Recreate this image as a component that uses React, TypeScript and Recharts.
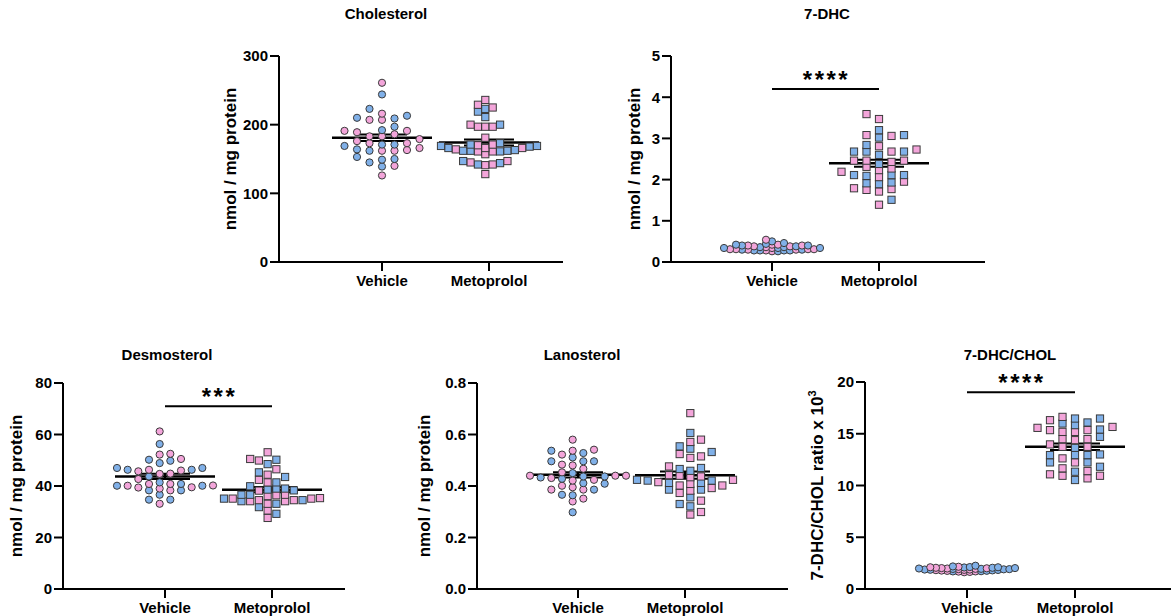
import React from 'react';
import { ScatterChart, Scatter, XAxis, YAxis, ReferenceLine } from 'recharts';

const groups = ['Vehicle', 'Metoprolol'];

// Cholesterol, nmol / mg protein
const cholVehiclePink = [183, 162, 183, 173, 207, 176, 163, 261, 216, 207, 191, 166, 140, 126, 191, 173, 162, 186, 189, 179];
const cholVehicleBlue = [197, 171, 209, 164, 192, 145, 244, 150, 213, 149, 139, 223, 210, 171, 162, 153, 169];
const cholMetoprololPink = [181, 166, 166, 161, 200, 171, 145, 229, 197, 225, 157, 236, 197, 170, 142, 128, 197, 141, 161, 147, 164];
const cholMetoprololBlue = [169, 162, 171, 162, 144, 211, 200, 168, 142, 223, 161, 219, 166, 169, 162, 147, 173, 163];

// 7-DHC, nmol / mg protein
const dhcVehiclePink = [0.3, 0.42, 0.26, 0.31, 0.54, 0.31, 0.34, 0.42, 0.31, 0.31, 0.3, 0.4, 0.38, 0.36, 0.38, 0.28, 0.4];
const dhcVehicleBlue = [0.4, 0.36, 0.36, 0.28, 0.3, 0.5, 0.46, 0.28, 0.26, 0.34, 0.42, 0.34, 0.3, 0.28, 0.44, 0.34, 0.38, 0.28, 0.4];
const dhcMetoprololPink = [3.06, 2.73, 2.46, 2.31, 1.75, 3.59, 2.46, 1.79, 1.39, 3.47, 2.19, 1.95, 1.71, 3.08, 2.68, 2.43, 2.23, 2.06, 1.77, 2.81, 2.46, 2.27];
const dhcMetoprololBlue = [2.68, 2.11, 1.89, 3.2, 2.11, 1.93, 3.08, 2.68, 2.11, 3.02, 2.84, 2.6, 2.38, 1.51, 2.68, 2.09, 1.91];

// Desmosterol, nmol / mg protein
const desmoVehiclePink = [61.2, 52.2, 50.5, 52.5, 46.3, 45.7, 46.0, 42.7, 44.8, 44.7, 40.8, 38.3, 39.4, 39.5, 33.1, 40.8, 39.0, 40.1, 40.2];
const desmoVehicleBlue = [56.3, 48.9, 50.2, 49.8, 46.3, 47.0, 47.0, 46.3, 43.7, 40.8, 41.4, 38.3, 36.6, 40.1, 34.7, 38.3, 34.7, 40.1];
const desmoMetoprololPink = [53.1, 50.5, 49.9, 46.5, 44.4, 42.4, 41.4, 35.3, 35.1, 34.5, 36.4, 33.1, 30.5, 27.6, 36.1, 38.2, 34.5, 36.6, 34.1, 34.1, 35.1];
const desmoMetoprololBlue = [50.2, 48.5, 45.3, 43.5, 41.4, 39.9, 38.6, 38.3, 39.0, 39.0, 33.1, 35.1, 36.6, 34.1, 31.8, 29.2, 36.6, 34.5];

// Lanosterol, nmol / mg protein
const lanoVehiclePink = [0.58, 0.541, 0.522, 0.537, 0.48, 0.483, 0.467, 0.44, 0.44, 0.431, 0.453, 0.424, 0.44, 0.401, 0.421, 0.386, 0.386, 0.395, 0.351, 0.34];
const lanoVehicleBlue = [0.528, 0.537, 0.511, 0.496, 0.496, 0.496, 0.45, 0.428, 0.437, 0.437, 0.433, 0.409, 0.411, 0.386, 0.366, 0.364, 0.298];
const lanoMetoprololPink = [0.683, 0.524, 0.571, 0.58, 0.515, 0.509, 0.476, 0.437, 0.408, 0.442, 0.415, 0.424, 0.392, 0.382, 0.343, 0.402, 0.373, 0.289, 0.44, 0.299, 0.434, 0.402];
const lanoMetoprololBlue = [0.606, 0.554, 0.545, 0.532, 0.47, 0.466, 0.459, 0.412, 0.321, 0.412, 0.386, 0.356, 0.33, 0.421, 0.386, 0.421, 0.424];

// 7-DHC/CHOL ratio x 10^3
const ratioVehiclePink = [1.95, 1.75, 2.05, 1.62, 1.88, 2.1, 1.7, 1.98, 1.82, 2.15, 1.68, 1.92, 1.78, 2.02, 1.65, 1.85, 2.0];
const ratioVehicleBlue = [2.12, 1.9, 1.8, 2.05, 1.95, 1.72, 2.25, 1.88, 2.08, 1.76, 1.98, 1.84, 2.18, 1.92, 1.7, 2.02, 1.86, 2.1, 1.94];
const ratioMetoprololPink = [16.31, 15.57, 15.35, 13.97, 11.4, 10.69, 15.18, 14.48, 12.62, 11.08, 15.18, 14.38, 13.74, 11.66, 10.94, 15.66, 14.48, 12.23, 10.94, 16.63, 15.35, 13.74];
const ratioMetoprololBlue = [16.09, 13.0, 16.47, 13.64, 11.81, 15.83, 12.94, 12.23, 16.47, 12.94, 15.99, 14.7, 12.94, 12.23, 11.33, 10.53, 15.41];

const PINK = '#f3a5da';
const BLUE = '#80b0e8';
const EDGE = '#3a3a3a';
const FONT = '"Liberation Sans", Arial, Helvetica, sans-serif';

type Dot = { x: number; y: number; color: string };

// column scatter like Prism: every point goes to the nearest free column
function columnSwarm(pink: number[], blue: number[], center: number, yPx: number, unitPx: number): Dot[] {
  const pts = [...pink.map((v) => ({ v, color: PINK })), ...blue.map((v) => ({ v, color: BLUE }))].sort((a, b) => a.v - b.v);
  let gap = 6.0;
  let cols: number[] = [];
  for (let tries = 0; tries < 30; tries++) {
    const used = new Map<number, number[]>();
    let side = 1;
    cols = pts.map((p) => {
      const py = p.v * yPx;
      for (let i = 0; ; i++) {
        const k = i === 0 ? 0 : Math.ceil(i / 2) * (i % 2 ? side : -side);
        const list = used.get(k) ?? [];
        if (list.every((q) => Math.abs(q - py) >= gap)) {
          list.push(py);
          used.set(k, list);
          if (k !== 0) side = -side;
          return k;
        }
      }
    });
    if (Math.max(...cols) - Math.min(...cols) <= 17) break;
    gap *= 0.9;
  }
  const lo = Math.min(...cols);
  const hi = Math.max(...cols);
  const step = Math.min(12.5, 96 / Math.max(hi - lo, 1));
  const mid = (lo + hi) / 2;
  return pts.map((p, i) => ({ x: center + ((cols[i] - mid) * step) / unitPx, y: p.v, color: p.color }));
}

function meanSem(a: number[]) {
  const n = a.length;
  const m = a.reduce((s, v) => s + v, 0) / n;
  const sd = Math.sqrt(a.reduce((s, v) => s + (v - m) ** 2, 0) / (n - 1));
  return { m, sem: sd / Math.sqrt(n) };
}

const circleShape = (props: any) => (
  <circle cx={props.cx} cy={props.cy} r={3.6} fill={props.payload.color} stroke={EDGE} strokeWidth={1} />
);
const squareShape = (props: any) => (
  <rect x={props.cx - 3.6} y={props.cy - 3.6} width={7.2} height={7.2} fill={props.payload.color} stroke={EDGE} strokeWidth={1} />
);

type PanelCfg = {
  title: string;
  titleX: number;
  titleTop: number;
  left: number;
  top: number;
  w: number;
  h: number;
  unit: number;
  first: number;
  yMax: number;
  yTicks: number[];
  decimals: number;
  yLabel: string;
  ySup?: string;
  labelDx: number;
  vehicle: number[][];
  metoprolol: number[][];
  sig?: { y: number; stars: string };
};

const panels: PanelCfg[] = [
  {
    title: 'Cholesterol', titleX: 386, titleTop: 6,
    left: 279, top: 56, w: 284, h: 206, unit: 107, first: 103,
    yMax: 300, yTicks: [0, 100, 200, 300], decimals: 0,
    yLabel: 'nmol / mg protein', labelDx: -43,
    vehicle: [cholVehiclePink, cholVehicleBlue], metoprolol: [cholMetoprololPink, cholMetoprololBlue],
  },
  {
    title: '7-DHC', titleX: 827, titleTop: 6,
    left: 671, top: 56, w: 314, h: 206, unit: 107, first: 101,
    yMax: 5, yTicks: [0, 1, 2, 3, 4, 5], decimals: 0,
    yLabel: 'nmol / mg protein', labelDx: -31,
    vehicle: [dhcVehiclePink, dhcVehicleBlue], metoprolol: [dhcMetoprololPink, dhcMetoprololBlue],
    sig: { y: 4.2, stars: '****' },
  },
  {
    title: 'Desmosterol', titleX: 167, titleTop: 347,
    left: 63, top: 383, w: 282, h: 206, unit: 107, first: 102,
    yMax: 80, yTicks: [0, 20, 40, 60, 80], decimals: 0,
    yLabel: 'nmol / mg protein', labelDx: -41,
    vehicle: [desmoVehiclePink, desmoVehicleBlue], metoprolol: [desmoMetoprololPink, desmoMetoprololBlue],
    sig: { y: 71, stars: '***' },
  },
  {
    title: 'Lanosterol', titleX: 582, titleTop: 347,
    left: 477, top: 383, w: 311, h: 206, unit: 107, first: 101,
    yMax: 0.8, yTicks: [0, 0.2, 0.4, 0.6, 0.8], decimals: 1,
    yLabel: 'nmol / mg protein', labelDx: -47,
    vehicle: [lanoVehiclePink, lanoVehicleBlue], metoprolol: [lanoMetoprololPink, lanoMetoprololBlue],
  },
  {
    title: '7-DHC/CHOL', titleX: 1010, titleTop: 347,
    left: 865, top: 382, w: 310, h: 207, unit: 108, first: 102,
    yMax: 20, yTicks: [0, 5, 10, 15, 20], decimals: 0,
    yLabel: '7-DHC/CHOL ratio x 10', ySup: '3', labelDx: -42,
    vehicle: [ratioVehiclePink, ratioVehicleBlue], metoprolol: [ratioMetoprololPink, ratioMetoprololBlue],
    sig: { y: 19, stars: '****' },
  },
];

const axisStyle = { stroke: '#000', strokeWidth: 2 };
const tickStyle = { fill: '#000', fontSize: 15, fontWeight: 'bold', fontFamily: FONT };

function Panel({ cfg }: { cfg: PanelCfg }) {
  const { left, top, w, h, unit, first, yMax } = cfg;
  const domain = [1 - first / unit, 1 + (w - first) / unit];
  const yPx = h / yMax;
  const veh = columnSwarm(cfg.vehicle[0], cfg.vehicle[1], 1, yPx, unit);
  const met = columnSwarm(cfg.metoprolol[0], cfg.metoprolol[1], 2, yPx, unit);
  const halfMean = 50 / unit;
  const halfCap = 25 / unit;

  const summary = [cfg.vehicle, cfg.metoprolol].flatMap((g, gi) => {
    const c = gi + 1;
    const { m, sem } = meanSem([...g[0], ...g[1]]);
    return [
      <ReferenceLine key={`m${gi}`} segment={[{ x: c - halfMean, y: m }, { x: c + halfMean, y: m }]} stroke="#000" strokeWidth={2.5} ifOverflow="visible" />,
      <ReferenceLine key={`v${gi}`} segment={[{ x: c, y: m - sem }, { x: c, y: m + sem }]} stroke="#000" strokeWidth={2} ifOverflow="visible" />,
      <ReferenceLine key={`u${gi}`} segment={[{ x: c - halfCap, y: m + sem }, { x: c + halfCap, y: m + sem }]} stroke="#000" strokeWidth={2} ifOverflow="visible" />,
      <ReferenceLine key={`l${gi}`} segment={[{ x: c - halfCap, y: m - sem }, { x: c + halfCap, y: m - sem }]} stroke="#000" strokeWidth={2} ifOverflow="visible" />,
    ];
  });

  const yTitle = () => {
    const x = 80 + cfg.labelDx;
    const y = 60 + h / 2;
    return (
      <text x={x} y={y} transform={`rotate(-90 ${x} ${y})`} textAnchor="middle" fill="#000" fontSize={17} fontWeight="bold" fontFamily={FONT}>
        {cfg.yLabel}
        {cfg.ySup && (
          <tspan dy={-7} fontSize={11}>
            {cfg.ySup}
          </tspan>
        )}
      </text>
    );
  };

  return (
    <div style={{ position: 'absolute', left: left - 80, top: top - 60 }}>
      <ScatterChart width={w + 84} height={h + 100} margin={{ top: 60, right: 4, bottom: 0, left: 0 }}>
        <XAxis
          type="number"
          dataKey="x"
          domain={domain}
          allowDataOverflow
          ticks={[1, 2]}
          tickFormatter={(v: number) => groups[Math.round(v) - 1]}
          height={40}
          axisLine={axisStyle}
          tickLine={axisStyle}
          tickSize={9}
          tickMargin={4}
          tick={tickStyle}
        />
        <YAxis
          type="number"
          dataKey="y"
          domain={[0, yMax]}
          ticks={cfg.yTicks}
          tickFormatter={(v: number) => v.toFixed(cfg.decimals)}
          width={80}
          axisLine={axisStyle}
          tickLine={axisStyle}
          tickSize={9}
          tickMargin={2}
          tick={tickStyle}
          label={{ content: yTitle }}
        />
        <Scatter data={veh} shape={circleShape} isAnimationActive={false} />
        <Scatter data={met} shape={squareShape} isAnimationActive={false} />
        {summary}
        {cfg.sig && (
          <ReferenceLine
            segment={[{ x: 1, y: cfg.sig.y }, { x: 2, y: cfg.sig.y }]}
            stroke="#000"
            strokeWidth={2}
            ifOverflow="visible"
            label={{
              content: (p: any) => (
                <text
                  x={p.viewBox.x + p.viewBox.width / 2 + 1}
                  y={p.viewBox.y - 1}
                  textAnchor="middle"
                  fill="#000"
                  fontSize={24}
                  fontWeight="bold"
                  fontFamily={FONT}
                  letterSpacing={2.5}
                >
                  {cfg.sig!.stars}
                </text>
              ),
            }}
          />
        )}
      </ScatterChart>
    </div>
  );
}

export default function App() {
  return (
    <div style={{ position: 'absolute', left: 0, top: 0, width: 1171, height: 616, overflow: 'hidden', background: '#fff' }}>
      {panels.map((p) => (
        <Panel key={p.title} cfg={p} />
      ))}
      {panels.map((p) => (
        <div
          key={`t-${p.title}`}
          style={{
            position: 'absolute',
            left: p.titleX - 100,
            width: 200,
            top: p.titleTop,
            textAlign: 'center',
            fontFamily: FONT,
            fontWeight: 'bold',
            fontSize: 15,
            lineHeight: '15px',
            color: '#000',
          }}
        >
          {p.title}
        </div>
      ))}
    </div>
  );
}
